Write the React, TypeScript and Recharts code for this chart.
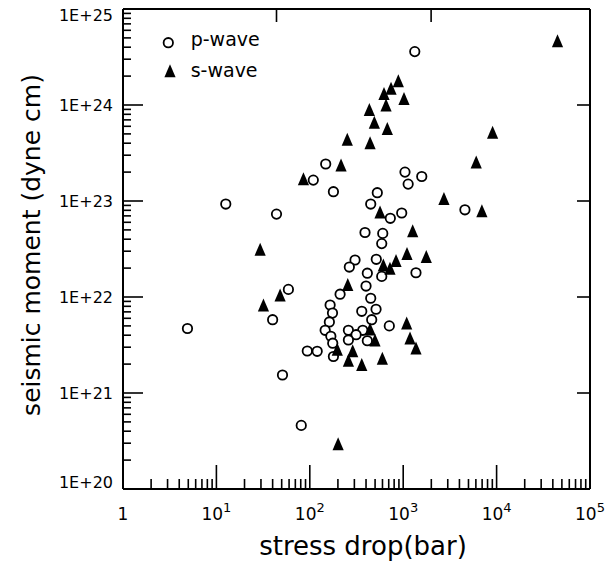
import React from "react";
import { ScatterChart, Scatter, XAxis, YAxis, Legend } from "recharts";

// p-wave: stress drop (bar) / seismic moment (dyne cm)
const pStress = [4.9, 12.6, 44, 109, 148, 179, 1330, 1045, 1580, 1130, 528, 449, 728, 964, 4580, 390, 604, 589, 305, 265, 515, 413, 589, 1370, 400, 59, 211, 449, 165, 175, 360, 512, 162, 460, 710, 146, 259, 369, 313, 168, 259, 413, 176, 94, 120, 179, 40, 51, 81];
const pMoment = [4.7e21, 9.3e22, 7.3e22, 1.65e23, 2.43e23, 1.25e23, 3.6e24, 2.0e23, 1.8e23, 1.5e23, 1.22e23, 9.3e22, 6.6e22, 7.5e22, 8.1e22, 4.7e22, 4.6e22, 3.6e22, 2.43e22, 2.05e22, 2.47e22, 1.77e22, 1.64e22, 1.79e22, 1.3e22, 1.2e22, 1.07e22, 9.7e21, 8.25e21, 6.8e21, 7.1e21, 7.45e21, 5.5e21, 5.8e21, 5.0e21, 4.5e21, 4.5e21, 4.5e21, 4.05e21, 3.9e21, 3.57e21, 3.5e21, 3.3e21, 2.74e21, 2.72e21, 2.4e21, 5.8e21, 1.54e21, 4.6e20];

// s-wave
const sStress = [44900, 887, 741, 623, 1020, 655, 434, 491, 676, 252, 442, 216, 85.5, 9060, 6050, 2730, 6960, 1264, 565, 29.4, 48.1, 31.9, 613, 722, 838, 1098, 1766, 255, 1090, 442, 499, 1183, 1371, 197, 288, 259, 360, 598, 201];
const sMoment = [4.68e24, 1.79e24, 1.49e24, 1.32e24, 1.17e24, 1.0e24, 9.0e23, 6.6e23, 5.7e23, 4.4e23, 4.05e23, 2.37e23, 1.71e23, 5.2e23, 2.55e23, 1.06e23, 7.9e22, 4.9e22, 7.7e22, 3.14e22, 1.05e22, 8.25e21, 2.15e22, 1.99e22, 2.4e22, 2.84e22, 2.64e22, 1.35e22, 5.36e21, 4.64e21, 3.57e21, 3.74e21, 2.94e21, 2.85e21, 2.76e21, 2.19e21, 1.98e21, 2.3e21, 2.96e20];

const xMajor = [1, 10, 100, 1000, 10000, 100000];
const xExponents = ["", "1", "2", "3", "4", "5"];
const yMajor = [1e20, 1e21, 1e22, 1e23, 1e24, 1e25];
const yLabels = ["1E+20", "1E+21", "1E+22", "1E+23", "1E+24", "1E+25"];
const topTicks = [44, 1990];
const rightTicks = [1e21, 1e22, 1e23, 1e24];

const withMinor = (majors: number[]) => {
  const out: number[] = [];
  majors.forEach((m, i) => {
    out.push(m);
    if (i < majors.length - 1) for (let k = 2; k <= 9; k++) out.push(m * k);
  });
  return out;
};
const xTicks = withMinor(xMajor);
const yTicks = withMinor(yMajor);

const pData = pStress.map((x, i) => ({ x, y: pMoment[i] }));
const sData = sStress.map((x, i) => ({ x, y: sMoment[i] }));

const FONT = "DejaVu Sans";
const isMajor = (v: number) => {
  const l = Math.log10(v);
  return Math.abs(l - Math.round(l)) < 1e-9;
};

const BottomTick = (props: any) => {
  const { x, y, payload } = props;
  const v = payload.value;
  const major = isMajor(v);
  const idx = xMajor.findIndex((m) => Math.abs(m - v) < 1e-6 * m);
  return (
    <g>
      <line x1={x} x2={x} y1={y} y2={y - (major ? 24 : 10)} stroke="#000" strokeWidth={1.6} />
      {major && (
        <text x={x} y={y + 31} textAnchor="middle" fontFamily={FONT} fontSize={17} fill="#000">
          {idx === 0 ? "1" : "10"}
          {idx > 0 && (
            <tspan dy={-8} fontSize={13}>
              {xExponents[idx]}
            </tspan>
          )}
        </text>
      )}
    </g>
  );
};

const LeftTick = (props: any) => {
  const { x, y, payload } = props;
  const v = payload.value;
  const major = isMajor(v);
  const idx = yMajor.findIndex((m) => Math.abs(m - v) < 1e-6 * m);
  let ly = y + 6;
  if (idx === 5) ly += 6;
  if (idx === 0) ly -= 7;
  return (
    <g>
      <line x1={x} x2={x + (major ? 20 : 8)} y1={y} y2={y} stroke="#000" strokeWidth={1.6} />
      {major && (
        <text x={x - 10} y={ly} textAnchor="end" fontFamily={FONT} fontSize={16} fill="#000">
          {yLabels[idx]}
        </text>
      )}
    </g>
  );
};

const RightTick = (props: any) => {
  const { x, y } = props;
  return <line x1={x} x2={x - 13} y1={y} y2={y} stroke="#000" strokeWidth={1.6} />;
};

const TopTick = (props: any) => {
  const { x, y } = props;
  return <line x1={x} x2={x} y1={y} y2={y + 13} stroke="#000" strokeWidth={1.6} />;
};

const CircleShape = (p: any) => (
  <circle cx={p.cx} cy={p.cy} r={4.7} fill="#fff" stroke="#000" strokeWidth={1.8} />
);
const TriangleShape = (p: any) => (
  <path
    d={`M${p.cx},${p.cy - 6.5}L${p.cx + 5.6},${p.cy + 6.5}L${p.cx - 5.6},${p.cy + 6.5}Z`}
    fill="#000"
  />
);

const LegendBox = () => (
  <svg width={130} height={60}>
    <circle cx={18.3} cy={17.7} r={4.7} fill="#fff" stroke="#000" strokeWidth={1.8} />
    <text x={40.7} y={21} fontFamily={FONT} fontSize={19} fill="#000">p-wave</text>
    <path d="M20,39.2L25.6,52.2L14.4,52.2Z" fill="#000" />
    <text x={40.7} y={52} fontFamily={FONT} fontSize={19} fill="#000">s-wave</text>
  </svg>
);

const axisLine = { stroke: "#000", strokeWidth: 2 };

export default function App() {
  return (
    <div style={{ position: "absolute", left: 0, top: 0, width: 605, height: 563, background: "#fff" }}>
      <ScatterChart width={605} height={563} margin={{ top: 8, right: 14, bottom: 44, left: 63 }}>
        <XAxis
          xAxisId="b"
          type="number"
          dataKey="x"
          scale="log"
          domain={[1, 100000]}
          allowDataOverflow
          ticks={xTicks}
          interval={0}
          tickSize={0}
          tickMargin={0}
          tickLine={false}
          axisLine={axisLine}
          height={30}
          tick={BottomTick}
        />
        <XAxis
          xAxisId="t"
          orientation="top"
          type="number"
          dataKey="x"
          scale="log"
          domain={[1, 100000]}
          allowDataOverflow
          ticks={topTicks}
          interval={0}
          tickSize={0}
          tickMargin={0}
          tickLine={false}
          axisLine={axisLine}
          height={1}
          tick={TopTick}
        />
        <YAxis
          yAxisId="l"
          type="number"
          dataKey="y"
          scale="log"
          domain={[1e20, 1e25]}
          allowDataOverflow
          ticks={yTicks}
          interval={0}
          tickSize={0}
          tickMargin={0}
          tickLine={false}
          axisLine={axisLine}
          width={60}
          tick={LeftTick}
        />
        <YAxis
          yAxisId="r"
          orientation="right"
          type="number"
          dataKey="y"
          scale="log"
          domain={[1e20, 1e25]}
          allowDataOverflow
          ticks={rightTicks}
          interval={0}
          tickSize={0}
          tickMargin={0}
          tickLine={false}
          axisLine={axisLine}
          width={1}
          tick={RightTick}
        />
        <Legend
          layout="vertical"
          align="center"
          verticalAlign="middle"
          wrapperStyle={{ left: 150, top: 25, width: 130, height: 60 }}
          content={LegendBox}
        />
        <Scatter name="p-wave" xAxisId="b" yAxisId="l" data={pData} shape={CircleShape} isAnimationActive={false} />
        <Scatter name="s-wave" xAxisId="b" yAxisId="l" data={sData} shape={TriangleShape} isAnimationActive={false} />
      </ScatterChart>
      <svg
        width={605}
        height={563}
        style={{ position: "absolute", left: 0, top: 0, pointerEvents: "none" }}
      >
        <text x={363} y={555} textAnchor="middle" fontFamily={FONT} fontSize={26} fill="#000">
          stress drop(bar)
        </text>
        <text
          x={0}
          y={0}
          transform="translate(40,245) rotate(-90)"
          textAnchor="middle"
          fontFamily={FONT}
          fontSize={25}
          fill="#000"
        >
          seismic moment (dyne cm)
        </text>
      </svg>
    </div>
  );
}
